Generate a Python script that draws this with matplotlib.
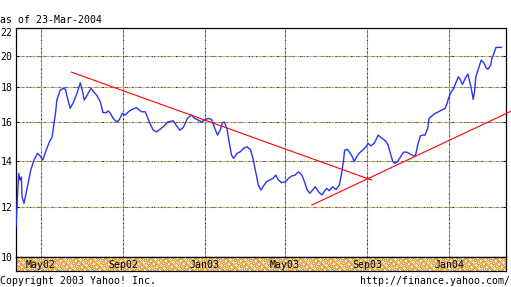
import numpy as np
import pandas as pd
import matplotlib
matplotlib.use("Agg")
import matplotlib.pyplot as plt
import matplotlib.dates as mdates
from matplotlib.ticker import FixedLocator, NullLocator, NullFormatter

# ---------------- data ----------------
start_date = "2002-03-25"
day_offsets = [0, 4, 6, 8, 9, 12, 17, 22, 27, 32, 36, 40, 45, 50, 54, 56, 59, 61, 66, 71,
               74, 76, 81, 86, 91, 96, 99, 102, 105, 109, 112, 116, 121, 126, 130, 134, 138, 141, 145, 150,
               154, 159, 163, 168, 173, 180, 184, 188, 193, 195, 200, 205, 210, 215, 220, 227, 235, 240, 245, 250,
               256, 262, 267, 272, 277, 282, 287, 292, 297, 301, 305, 308, 311, 315, 318, 322, 325, 330, 335, 340,
               345, 350, 354, 358, 362, 366, 369, 374, 379, 384, 388, 392, 397, 402, 407, 412, 417, 422, 427, 431,
               435, 439, 443, 447, 452, 457, 460, 464, 468, 473, 478, 483, 486, 489, 491, 495, 499, 503, 505, 509,
               513, 519, 523, 526, 530, 535, 538, 541, 545, 549, 553, 556, 560, 563, 566, 570, 573, 579, 584, 589,
               594, 597, 600, 604, 607, 611, 615, 617, 621, 626, 631, 636, 641, 644, 646, 650, 654, 657, 661, 664,
               667, 671, 675, 679, 681, 683, 685, 687, 691, 695, 699, 702, 705, 709, 711, 714, 717, 725]
prices = [11.21, 13.44, 13.14, 13.27, 12.41, 12.14, 12.84, 13.59, 14.06, 14.38, 14.26, 14.06, 14.53, 14.96, 15.20, 15.74, 16.47, 17.23, 17.82, 17.93,
          17.86, 17.49, 16.75, 17.12, 17.62, 18.27, 17.82, 17.23, 17.42, 17.72, 17.93, 17.72, 17.49, 17.12, 16.51, 16.51, 16.60, 16.47, 16.20, 16.01,
          16.10, 16.47, 16.38, 16.56, 16.69, 16.80, 16.66, 16.56, 16.56, 16.38, 15.92, 15.56, 15.47, 15.60, 15.74, 16.00, 16.06, 15.78, 15.56, 15.70,
          16.19, 16.38, 16.19, 16.10, 16.00, 16.10, 16.19, 16.14, 15.65, 15.30, 15.56, 15.92, 16.00, 15.65, 15.04, 14.30, 14.14, 14.38, 14.46, 14.63,
          14.71, 14.58, 14.14, 13.51, 12.92, 12.70, 12.84, 13.06, 13.14, 13.21, 13.36, 13.14, 13.02, 13.06, 13.21, 13.32, 13.36, 13.51, 13.36, 13.06,
          12.70, 12.56, 12.70, 12.84, 12.62, 12.49, 12.62, 12.77, 12.67, 12.84, 12.72, 12.92, 13.36, 13.98, 14.54, 14.58, 14.40, 14.19, 13.98, 14.22,
          14.40, 14.58, 14.71, 14.88, 14.75, 14.88, 15.08, 15.30, 15.18, 15.08, 14.96, 14.78, 14.30, 13.98, 13.90, 13.98, 14.14, 14.44, 14.44, 14.35,
          14.26, 14.30, 14.78, 15.25, 15.30, 15.30, 15.65, 16.19, 16.32, 16.47, 16.56, 16.66, 16.75, 17.04, 17.33, 17.72, 17.93, 18.27, 18.65, 18.44,
          18.17, 18.54, 18.82, 18.13, 17.72, 17.27, 17.72, 18.65, 19.18, 19.73, 19.55, 19.25, 19.12, 19.40, 19.84, 20.18, 20.60, 20.60]

trend_down_days = [83, 531]
trend_down_prices = [18.94, 13.14]
trend_up_days = [442, 740]
trend_up_prices = [12.07, 16.60]

y_tick_values = [10.12, 12, 14, 16, 18, 20, 22]
y_tick_labels = ["10", "12", "14", "16", "18", "20", "22"]
y_grid_values = [12, 14, 16, 18, 20]
x_grid_dates = ["2002-05-01", "2002-09-01", "2003-01-01", "2003-05-01", "2003-09-01", "2004-01-01"]
x_grid_labels = ["May02", "Sep02", "Jan03", "May03", "Sep03", "Jan04"]
x_limits = ["2002-03-25", "2004-03-26"]
y_limits = [10.12, 22]

title_text = "as of 23-Mar-2004"
copyright_text = "Copyright 2003 Yahoo! Inc."
url_text = "http://finance.yahoo.com/"

# ---------------- figure ----------------
plt.rcParams["font.family"] = ["DejaVu Sans Mono"]
FS = 7.15
W, H = 511, 287
fig = plt.figure(figsize=(W / 100, H / 100), dpi=100, facecolor="white")

ax = fig.add_axes([16 / W, (H - 257) / H, 490 / W, 229 / H])
ax_band = fig.add_axes([16 / W, (H - 271) / H, 490 / W, 14 / H], sharex=ax)

t0 = pd.Timestamp(start_date)
dates = t0 + pd.to_timedelta(day_offsets, unit="D")
td_dates = t0 + pd.to_timedelta(trend_down_days, unit="D")
tu_dates = t0 + pd.to_timedelta(trend_up_days, unit="D")

ax.set_yscale("log")
ax.set_ylim(*y_limits)
ax.set_xlim(pd.Timestamp(x_limits[0]), pd.Timestamp(x_limits[1]))

# gridlines (speckled look)
lw = 0.75
for yv in y_grid_values:
    ax.axhline(yv, color="#c4bcac", lw=lw, zorder=1)
    ax.axhline(yv, color="#f0a020", lw=lw, ls=(0, (1, 2)), zorder=1.1)
    ax.axhline(yv, color="#303030", lw=lw, ls=(1, (1, 6)), zorder=1.2)
    ax.axhline(yv, color="#40b040", lw=lw, ls=(4, (1, 9)), zorder=1.3)
    ax.axhline(yv, color="#4040e0", lw=lw, ls=(2, (1, 11)), zorder=1.3)
for d in x_grid_dates:
    xd = pd.Timestamp(d)
    ax.axvline(xd, color="#a8a8a0", lw=lw, zorder=1)
    ax.axvline(xd, color="#202020", lw=lw, ls=(0, (1, 3)), zorder=1.1)
    ax.axvline(xd, color="#f0a020", lw=lw, ls=(1, (1, 4)), zorder=1.2)
    ax.axvline(xd, color="#30a030", lw=lw, ls=(3, (1, 7)), zorder=1.3)

ax.plot(dates, prices, color="#2a35f0", lw=1.0, zorder=3)
ax.plot(td_dates, trend_down_prices, color="#ff0000", lw=0.8, zorder=4)
ax.plot(tu_dates, trend_up_prices, color="#ff0000", lw=0.8, zorder=4, clip_on=False)

# ticks
ax.yaxis.set_major_locator(FixedLocator(y_tick_values))
ax.set_yticklabels(y_tick_labels, fontsize=FS)
ax.yaxis.set_minor_locator(NullLocator())
ax.yaxis.set_minor_formatter(NullFormatter())
ax.tick_params(axis="y", direction="in", left=True, right=True, length=2.2, width=0.75, pad=2.6)
for lab in ax.get_yticklabels():
    if lab.get_text() == "22":
        lab.set_verticalalignment("top")
ax.xaxis.set_major_locator(mdates.MonthLocator())
ax.tick_params(axis="x", direction="in", top=True, bottom=True, length=2.2, width=0.75,
               labelbottom=False, labeltop=False)
for s in ax.spines.values():
    s.set_linewidth(0.9)
    s.set_color("black")
ax.set_facecolor("white")

# label band with orange speckle texture
ii, jj = np.indices((14, 490))
code = (ii * 3 + jj * 7 + (ii * jj) % 3) % 5
tex = np.zeros((14, 490, 3))
orange = np.array([232, 160, 48]) / 255
orange2 = np.array([245, 190, 90]) / 255
white = np.array([255, 255, 255]) / 255
grey = np.array([200, 190, 170]) / 255
tex[code == 0] = orange
tex[code == 1] = orange2
tex[code == 2] = white
tex[code == 3] = orange
tex[code == 4] = grey
x0n = mdates.date2num(pd.Timestamp(x_limits[0]))
x1n = mdates.date2num(pd.Timestamp(x_limits[1]))
ax_band.imshow(tex, extent=[x0n, x1n, 0, 1], aspect="auto", interpolation="nearest", zorder=0)
ax_band.set_ylim(0, 1)
ax_band.set_xlim(pd.Timestamp(x_limits[0]), pd.Timestamp(x_limits[1]))
ax_band.tick_params(left=False, bottom=False, labelleft=False, labelbottom=False)
ax_band.xaxis.set_major_locator(NullLocator())
ax_band.yaxis.set_major_locator(NullLocator())
for s in ax_band.spines.values():
    s.set_linewidth(0.9)
    s.set_color("black")
for d, lab in zip(x_grid_dates, x_grid_labels):
    ax_band.text(pd.Timestamp(d), 0.45, lab, ha="center", va="center", fontsize=FS, color="black")

# header / footer texts
fig.text(0 / W, 1 - 20 / H, title_text, ha="left", va="center", fontsize=FS)
fig.text(0 / W, 1 - 280.5 / H, copyright_text, ha="left", va="center", fontsize=FS)
fig.text(510 / W, 1 - 280.5 / H, url_text, ha="right", va="center", fontsize=FS)

fig.savefig("out.png", dpi=100, facecolor="white")
